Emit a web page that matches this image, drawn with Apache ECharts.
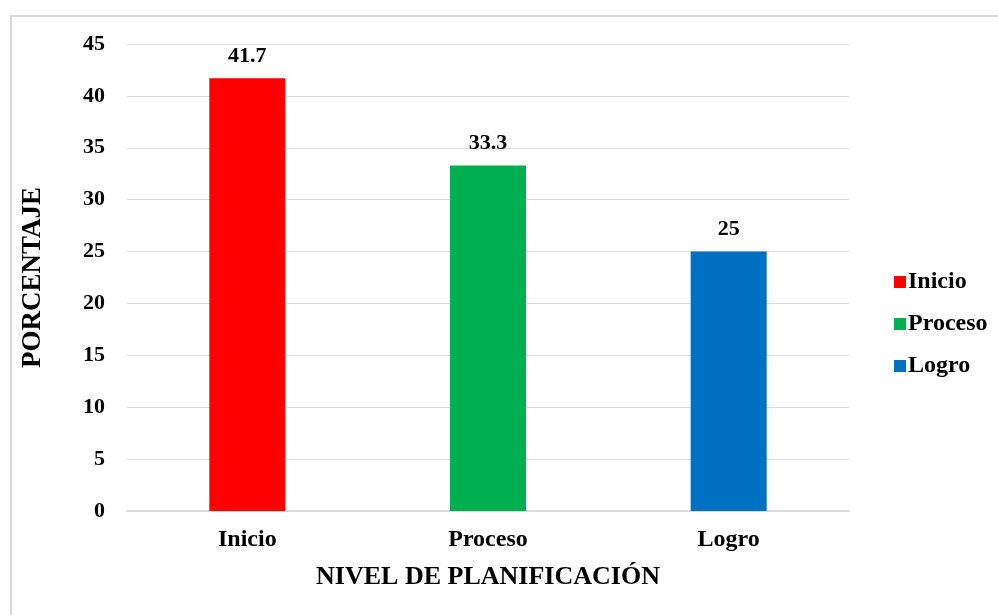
<!DOCTYPE html>
<html><head><meta charset="utf-8">
<script src="https://cdn.jsdelivr.net/npm/echarts@6/dist/echarts.min.js"></script>
<style>
html,body{margin:0;padding:0;background:#fff;}
#frame{position:absolute;left:10px;top:15px;width:1000px;height:620px;border:2px solid #d9d9d9;box-sizing:border-box;}
#c{position:absolute;left:0;top:0;width:998px;height:615px;}
</style></head>
<body>
<div id="frame"></div>
<div id="c"></div>
<script>
const categories = ['Inicio', 'Proceso', 'Logro'];
const values = [41.7, 33.3, 25];
const colors = ['#FF0000', '#00B050', '#0070C0'];
const yTicks = {min: 0, max: 45, interval: 5};

const font = '"Liberation Serif", "Times New Roman", serif';
const chart = echarts.init(document.getElementById('c'));
const series = categories.map((name, i) => ({
  name: name,
  type: 'bar',
  data: categories.map((c, j) => j === i ? values[i] : '-'),
  barWidth: 76,
  barGap: '-100%',
  itemStyle: {color: colors[i]},
  label: {show: true, position: 'top', distance: 11, color: '#000', fontFamily: font, fontWeight: 'bold', fontSize: 22}
}));
chart.setOption({
  animation: false,
  textStyle: {fontFamily: font},
  grid: {left: 127, right: 149, top: 44, bottom: 104, containLabel: false},
  legend: {
    orient: 'vertical', left: 889, top: 265,
    itemWidth: 12, itemHeight: 12, itemGap: 18,
    icon: 'rect',
    data: categories,
    textStyle: {fontFamily: font, fontWeight: 'bold', fontSize: 24, color: '#000', padding: [0,0,0,-3]}
  },
  xAxis: {
    type: 'category', data: categories,
    name: 'NIVEL DE PLANIFICACIÓN', nameLocation: 'middle', nameGap: 53,
    nameTextStyle: {fontFamily: font, fontWeight: 'bold', fontSize: 26, color: '#000'},
    axisLine: {lineStyle: {color: '#d9d9d9', width: 2}},
    axisTick: {show: false},
    axisLabel: {fontFamily: font, fontWeight: 'bold', fontSize: 24, color: '#000', margin: 17}
  },
  yAxis: {
    type: 'value', min: yTicks.min, max: yTicks.max, interval: yTicks.interval,
    name: 'PORCENTAJE', nameLocation: 'middle', nameGap: 80, nameRotate: 90,
    nameTextStyle: {fontFamily: font, fontWeight: 'bold', fontSize: 27, color: '#000'},
    axisLine: {show: false}, axisTick: {show: false},
    splitLine: {lineStyle: {color: '#d9d9d9', width: 1}},
    axisLabel: {fontFamily: font, fontWeight: 'bold', fontSize: 22, color: '#000', margin: 22}
  },
  series: series
});
</script>
</body></html>
